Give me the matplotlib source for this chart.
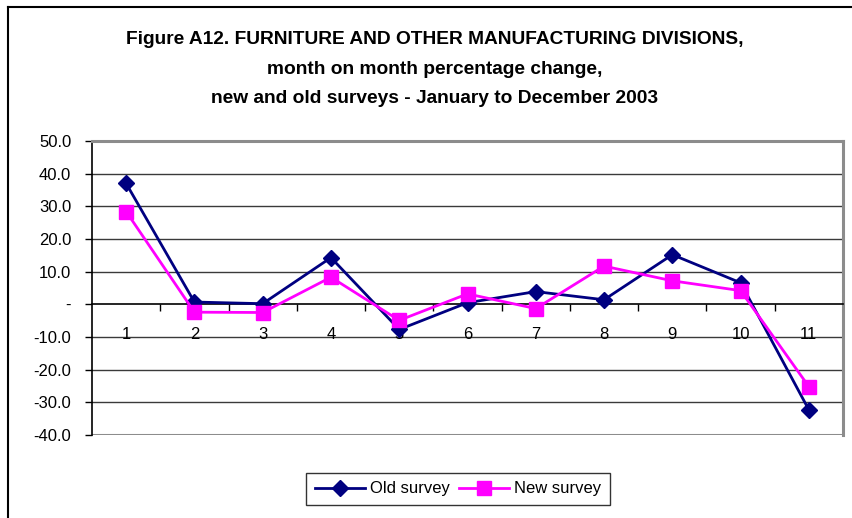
import numpy as np
import matplotlib.pyplot as plt
from matplotlib.lines import Line2D

plt.rcParams['font.family'] = ['Liberation Sans', 'DejaVu Sans']

months = list(range(1, 12))
old_survey = [37.0, 0.7, 0.2, 14.3, -7.7, 0.5, 3.9, 1.4, 15.2, 6.6, -32.3]
new_survey = [28.4, -2.4, -2.5, 8.3, -4.9, 3.2, -1.3, 11.7, 7.2, 4.2, -25.2]
yticks = [50, 40, 30, 20, 10, 0, -10, -20, -30, -40]
ytick_labels = ['50.0', '40.0', '30.0', '20.0', '10.0', '-', '-10.0', '-20.0', '-30.0', '-40.0']

fig = plt.figure(figsize=(8.52, 5.18), dpi=100)
ax = fig.add_axes([92/852, 1-435/518, (843-92)/852, (435-141)/518])

# outer chart frame (only top and left edges fall inside the image)
fig.add_artist(Line2D([8/852, 1], [1-7/518, 1-7/518], color='black', lw=1.5))
fig.add_artist(Line2D([8/852, 8/852], [0, 1-7/518], color='black', lw=1.5))

fig.text(0.51, 1-40/518, 'Figure A12. FURNITURE AND OTHER MANUFACTURING DIVISIONS,',
         ha='center', va='center', fontsize=13.8, fontweight='bold')
fig.text(0.51, 1-69/518, 'month on month percentage change,',
         ha='center', va='center', fontsize=13.8, fontweight='bold')
fig.text(0.51, 1-98/518, 'new and old surveys - January to December 2003',
         ha='center', va='center', fontsize=13.8, fontweight='bold')

for y in yticks:
    if y not in (0, -40, 50):
        ax.axhline(y, color='#3a3a3a', lw=1.0, zorder=1)
ax.axhline(-40, color='#8c8c8c', lw=2.2, zorder=1)

ax.plot(months, old_survey, color='#000080', lw=2, marker='D', markersize=8,
        label='Old survey', zorder=3)
ax.plot(months, new_survey, color='#ff00ff', lw=2, marker='s', markersize=10,
        label='New survey', zorder=3)

ax.set_xlim(0.5, 11.5)
ax.set_ylim(-40, 50)

ax.spines['top'].set_color('#8c8c8c')
ax.spines['top'].set_linewidth(2.2)
ax.spines['right'].set_color('#8c8c8c')
ax.spines['right'].set_linewidth(2.2)
ax.spines['left'].set_color('black')
ax.spines['left'].set_linewidth(1.2)
ax.spines['bottom'].set_position(('data', 0))
ax.spines['bottom'].set_color('black')
ax.spines['bottom'].set_linewidth(1.2)

ax.set_yticks(yticks)
ax.set_yticklabels(ytick_labels, fontsize=12)
ax.tick_params(axis='y', direction='out', length=5, width=1, pad=10)

ax.set_xticks(np.arange(1.5, 11.5, 1))
ax.set_xticklabels([])
ax.set_xticks(months, minor=True)
ax.set_xticklabels([str(m) for m in months], minor=True, fontsize=12)
ax.tick_params(axis='x', which='major', direction='out', length=5, width=1)
ax.tick_params(axis='x', which='minor', length=0, pad=16)

leg = ax.legend(loc='center', bbox_to_anchor=(458/852, 1-489/518),
                bbox_transform=fig.transFigure, ncol=2, fontsize=12,
                frameon=True, fancybox=False, handlelength=3.0,
                columnspacing=0.6, handletextpad=0.3, borderpad=0.5,
                borderaxespad=0)
leg.get_frame().set_edgecolor('black')
leg.get_frame().set_linewidth(1)

fig.savefig('out.png', dpi=100)
